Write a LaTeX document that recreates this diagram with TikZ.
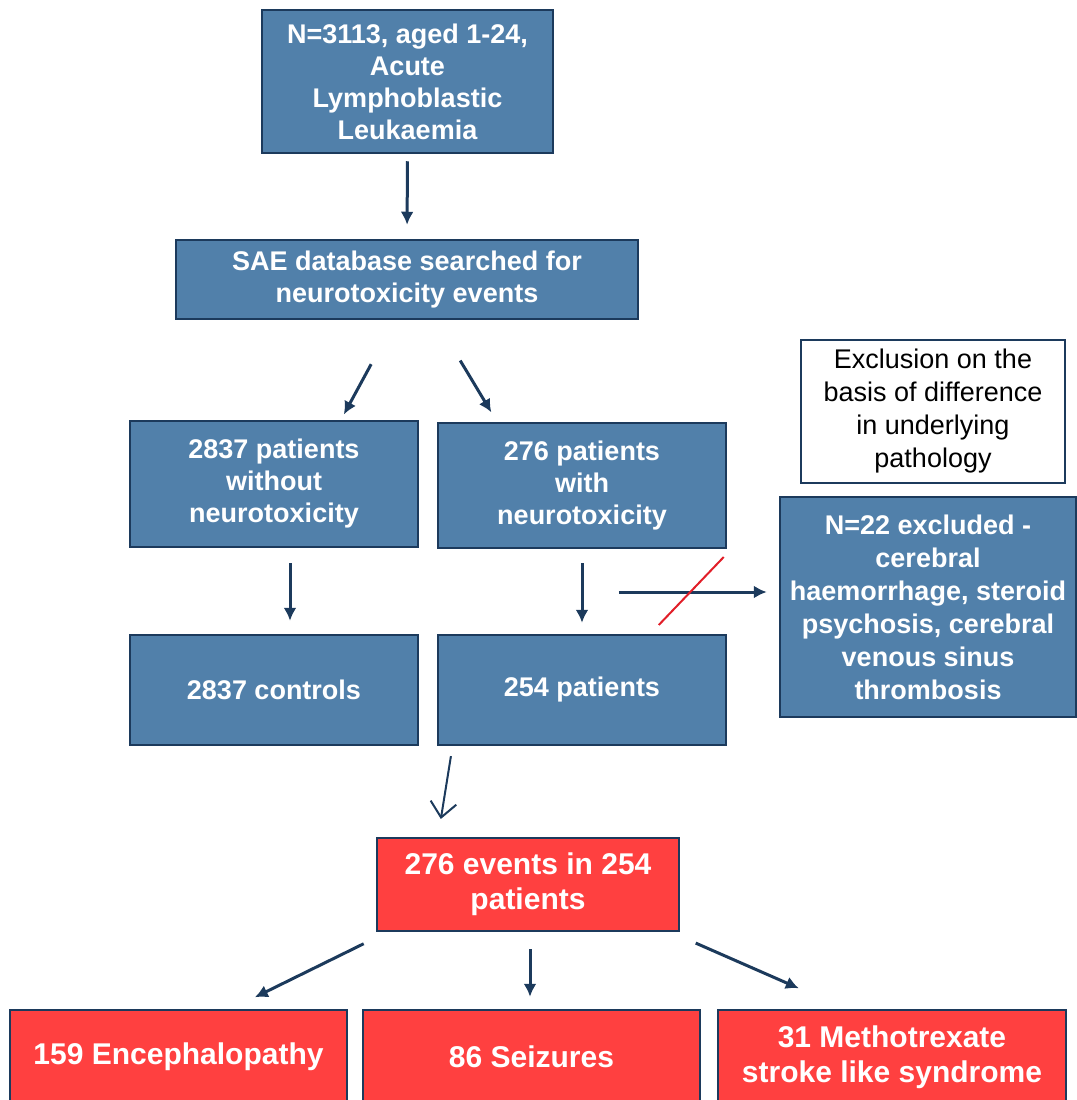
\documentclass[tikz,border=0pt]{standalone}
\usepackage{fontspec}
\setmainfont{Liberation Sans}
\usetikzlibrary{arrows.meta,calc}
\definecolor{boxblue}{RGB}{81,128,170}
\definecolor{boxred}{RGB}{255,64,64}
\definecolor{navy}{RGB}{28,58,92}
\definecolor{crossred}{RGB}{225,30,40}

\begin{document}
\begin{tikzpicture}[x=1pt,y=-1pt,
    bluebox/.style={draw=navy,line width=2.5pt,fill=boxblue,text=white,align=center,inner sep=0pt,
      font=\fontsize{27}{32}\selectfont\bfseries},
    redbox/.style={bluebox,fill=boxred,font=\fontsize{30}{35}\selectfont\bfseries},
    notebox/.style={draw=navy,line width=2pt,fill=white,text=black,align=center,inner sep=0pt,
      font=\fontsize{27}{33}\selectfont},
    arr/.style={navy,line width=3pt,-{Latex[length=13pt,width=13pt]}}]
    \useasboundingbox (0,0) rectangle (1076,1100);

    % Caselle principali
    \node[bluebox,minimum width=291pt,minimum height=143pt] (top) at (407.5,81.5)
        {N=3113, aged 1-24,\\Acute\\Lymphoblastic\\Leukaemia};
    \node[bluebox,minimum width=462pt,minimum height=79pt] (sae) at (407,279.5)
        {SAE database searched for\\neurotoxicity events};
    \node[bluebox,minimum width=288pt,minimum height=126pt] (without) at (274,484)
        {2837 patients\\without\\neurotoxicity};
    \node[bluebox,minimum width=288pt,minimum height=125pt] (with) at (582,485.5)
        {276 patients\\with\\neurotoxicity};
    \node[bluebox,minimum width=288pt,minimum height=110pt] (controls) at (274,690) {2837 controls};
    \node[bluebox,minimum width=288pt,minimum height=110pt] (pts) at (582,690) {254 patients};

    % Esclusione
    \node[notebox,minimum width=264pt,minimum height=143pt] (note) at (933,411.5)
        {Exclusion on the\\basis of difference\\in underlying\\pathology};
    \node[bluebox,font=\fontsize{27}{33}\selectfont\bfseries,minimum width=296pt,minimum height=220pt] (excl) at (928,607)
        {N=22 excluded -\\cerebral\\haemorrhage, steroid\\psychosis, cerebral\\venous sinus\\thrombosis};

    % Eventi
    \node[redbox,minimum width=302pt,minimum height=93pt] (events) at (528,884.5)
        {276 events in 254\\patients};
    \node[redbox,minimum width=337pt,minimum height=94pt] (enc) at (178.5,1057) {159 Encephalopathy};
    \node[redbox,minimum width=337pt,minimum height=94pt] (seiz) at (531.5,1057) {86 Seizures};
    \node[redbox,minimum width=348pt,minimum height=94pt] (mtx) at (892,1057)
        {31 Methotrexate\\stroke like syndrome};

    % Frecce
    \draw[arr,shorten <=7pt,shorten >=14pt] (top.south) -- (sae.north);
    \draw[arr,shorten <=50pt,shorten >=6pt] ($(sae.south)+(-12,0)$) -- ($(without.north)+(67,0)$);
    \draw[arr,shorten <=47pt,shorten >=11pt] ($(sae.south)+(29,0)$) -- ($(with.north)+(-85,0)$);
    \draw[arr,shorten <=15pt,shorten >=13pt] ($(without.south)+(16,0)$) -- ($(controls.north)+(16,0)$);
    \draw[arr,shorten <=14pt,shorten >=11pt] (with.south) -- (pts.north);

    % Freccia verso gli esclusi, barrata
    \coordinate (xstart) at ($(excl.west)+(-160,-15)$);
    \draw[arr,shorten >=12pt] (xstart) -- (xstart -| excl.west);
    \draw[crossred,line width=2pt] ($(xstart)+(72,0)$) ++(-32,33) -- ++(65,-68);

    % Freccia aperta verso gli eventi
    \draw[navy,line width=2pt,-{Straight Barb[length=15pt,width=26pt]},shorten <=10pt,shorten >=18pt]
        ($(pts.south)+(-129.5,0)$) -- ($(events.north)+(-90,0)$);

    \draw[arr,shorten <=26pt,shorten >=26pt] ($(events.south)+(-141,0)$) -- ($(enc.north)+(53,0)$);
    \draw[arr,shorten <=17pt,shorten >=12pt] ($(events.south)+(2,0)$) -- ($(seiz.north)+(-1.5,0)$);
    \draw[arr,shorten <=27pt,shorten >=51pt] ($(events.south)+(143,0)$) -- ($(mtx.north)+(-46.5,0)$);
\end{tikzpicture}
\end{document}
